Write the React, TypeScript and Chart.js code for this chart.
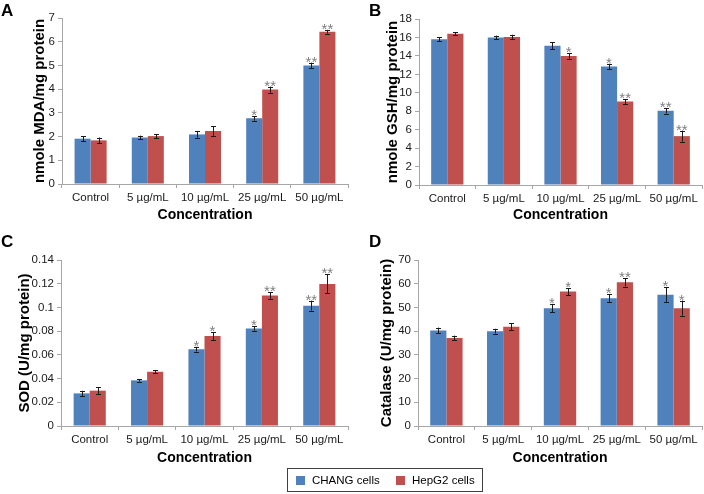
import React, { useEffect, useRef } from 'react';
import { Chart, registerables } from 'chart.js';

Chart.register(...registerables);

// ---------- data ----------
const categories = ['Control', '5 µg/mL', '10 µg/mL', '25 µg/mL', '50 µg/mL'];
const seriesNames = ['CHANG cells', 'HepG2 cells'];

// A: MDA
const mdaChang = [1.91, 1.96, 2.09, 2.77, 5.0];
const mdaHepg2 = [1.84, 2.02, 2.23, 3.98, 6.42];
const mdaChangErr = [0.1, 0.08, 0.14, 0.1, 0.12];
const mdaHepg2Err = [0.12, 0.09, 0.2, 0.13, 0.08];
const mdaChangSig = ['', '', '', '*', '**'];
const mdaHepg2Sig = ['', '', '', '**', '**'];

// B: GSH
const gshChang = [15.8, 16.0, 15.1, 12.85, 8.05];
const gshHepg2 = [16.4, 16.05, 14.0, 9.05, 5.3];
const gshChangErr = [0.2, 0.2, 0.4, 0.3, 0.3];
const gshHepg2Err = [0.15, 0.25, 0.3, 0.25, 0.6];
const gshChangSig = ['', '', '', '*', '**'];
const gshHepg2Sig = ['', '', '*', '**', '**'];

// C: SOD
const sodChang = [0.0275, 0.0385, 0.0648, 0.0822, 0.1015];
const sodHepg2 = [0.0298, 0.0458, 0.0758, 0.1101, 0.1198];
const sodChangErr = [0.0022, 0.001, 0.002, 0.0018, 0.0042];
const sodHepg2Err = [0.003, 0.0012, 0.0032, 0.0028, 0.008];
const sodChangSig = ['', '', '*', '*', '**'];
const sodHepg2Sig = ['', '', '*', '**', '**'];

// D: Catalase
const catChang = [40.3, 40.0, 49.7, 53.9, 55.3];
const catHepg2 = [37.1, 41.8, 56.7, 60.6, 49.7];
const catChangErr = [1.2, 1.0, 1.8, 1.6, 3.2];
const catHepg2Err = [1.0, 1.5, 1.5, 1.8, 3.2];
const catChangSig = ['', '', '*', '*', '*'];
const catHepg2Sig = ['', '', '*', '**', '*'];

// axis ranges [min, max, step]
const mdaAxis = [0, 7, 1];
const gshAxis = [0, 18, 2];
const sodAxis = [0, 0.14, 0.02];
const catAxis = [0, 70, 10];

const FONT = '"Liberation Sans", Arial, Helvetica, sans-serif';
const BLUE = '#4F81BD';
const RED = '#C0504D';
const AXIS = '#a6a6a6';

const errorPlugin = {
  id: 'errbars',
  afterDatasetsDraw(chart: any) {
    const ctx = chart.ctx;
    const ys = chart.scales.y;
    chart.data.datasets.forEach((ds: any, i: number) => {
      const meta = chart.getDatasetMeta(i);
      meta.data.forEach((el: any, j: number) => {
        const v = ds.data[j];
        const e = ds.errors[j];
        const top = ys.getPixelForValue(v + e);
        const bot = ys.getPixelForValue(v - e);
        const x = Math.round(el.x) + 0.5;
        ctx.save();
        ctx.strokeStyle = '#1a1a1a';
        ctx.lineWidth = 1;
        ctx.beginPath();
        ctx.moveTo(x, top);
        ctx.lineTo(x, bot);
        ctx.moveTo(x - 2.5, Math.round(top) + 0.5);
        ctx.lineTo(x + 2.5, Math.round(top) + 0.5);
        ctx.moveTo(x - 2.5, Math.round(bot) + 0.5);
        ctx.lineTo(x + 2.5, Math.round(bot) + 0.5);
        ctx.stroke();
        const s = ds.sig[j];
        if (s) {
          ctx.fillStyle = '#7f7f7f';
          ctx.font = '15px ' + FONT;
          ctx.textAlign = 'center';
          ctx.textBaseline = 'alphabetic';
          ctx.fillText(s, el.x, top + 4);
        }
        ctx.restore();
      });
    });
  },
};

type PanelProps = {
  left: number; top: number; width: number; height: number;
  plotLeft: number; plotRight: number; plotTop: number; plotBottom: number;
  titleX: number; titleY: number;
  yTitle: string;
  axis: number[];
  a: number[]; b: number[]; aErr: number[]; bErr: number[]; aSig: string[]; bSig: string[];
  letter: string; letterX: number; letterY: number;
  catPct: number;
};

function Panel(p: PanelProps) {
  const ref = useRef<HTMLCanvasElement | null>(null);
  useEffect(() => {
    if (!ref.current) return;
    const yTitleFont = 15;
    const xTitleFont = 14;
    const yHalf = (yTitleFont * 1.2) / 2;
    const xHalf = (xTitleFont * 1.2) / 2;
    const chart = new Chart(ref.current, {
      type: 'bar',
      data: {
        labels: categories,
        datasets: [
          { label: seriesNames[0], data: p.a, backgroundColor: BLUE, errors: p.aErr, sig: p.aSig } as any,
          { label: seriesNames[1], data: p.b, backgroundColor: RED, errors: p.bErr, sig: p.bSig } as any,
        ],
      },
      options: {
        animation: false,
        responsive: false,
        devicePixelRatio: 1,
        events: [],
        layout: { padding: { left: 0, top: p.plotTop, right: p.width - p.plotRight, bottom: 0 } },
        datasets: { bar: { barPercentage: 1, categoryPercentage: p.catPct } },
        plugins: { legend: { display: false }, tooltip: { enabled: false } },
        scales: {
          x: {
            afterFit: (s: any) => { s.height = p.height - p.plotBottom; },
            grid: { drawOnChartArea: false, drawTicks: true, tickLength: 4, color: AXIS, offset: true },
            border: { display: true, color: AXIS },
            ticks: { color: '#1a1a1a', font: { family: FONT, size: 11.5 }, padding: 3, maxRotation: 0, autoSkip: false },
            title: {
              display: true, text: 'Concentration', color: '#000',
              font: { family: FONT, size: xTitleFont, weight: 'bold' },
              padding: { top: 0, bottom: p.height - p.titleY - xHalf },
            },
          },
          y: {
            min: p.axis[0], max: p.axis[1],
            afterFit: (s: any) => { s.width = p.plotLeft; },
            grid: { drawOnChartArea: false, drawTicks: true, tickLength: 4, color: AXIS },
            border: { display: true, color: AXIS },
            ticks: {
              stepSize: p.axis[2], color: '#1a1a1a', font: { family: FONT, size: 11.5 }, padding: 3,
              callback: (v: any) => String(+Number(v).toFixed(4)),
            },
            title: {
              display: true, text: p.yTitle, color: '#000',
              font: { family: FONT, size: yTitleFont, weight: 'bold' },
              padding: { top: p.titleX - yHalf, bottom: 0 },
            },
          },
        },
      } as any,
      plugins: [errorPlugin],
    });
    return () => chart.destroy();
  }, []);
  return (
    <>
      <canvas
        ref={ref}
        width={p.width}
        height={p.height}
        style={{ position: 'absolute', left: p.left, top: p.top, width: p.width, height: p.height }}
      />
      <div
        style={{
          position: 'absolute', left: p.letterX, top: p.letterY, fontFamily: FONT, fontWeight: 'bold',
          fontSize: 17, lineHeight: '17px', color: '#000',
        }}
      >
        {p.letter}
      </div>
    </>
  );
}

export default function App() {
  return (
    <div style={{ position: 'fixed', left: 0, top: 0, width: 704, height: 494, background: '#fff', overflow: 'hidden' }}>
      <Panel
        left={0} top={0} width={352} height={226}
        plotLeft={62} plotRight={348} plotTop={18} plotBottom={184}
        titleX={40} titleY={215}
        yTitle="nmole MDA/mg protein" axis={mdaAxis}
        a={mdaChang} b={mdaHepg2} aErr={mdaChangErr} bErr={mdaHepg2Err} aSig={mdaChangSig} bSig={mdaHepg2Sig}
        letter="A" letterX={1} letterY={2} catPct={0.56}
      />
      <Panel
        left={352} top={0} width={352} height={226}
        plotLeft={67} plotRight={350} plotTop={19} plotBottom={185}
        titleX={41} titleY={215}
        yTitle="nmole GSH/mg protein" axis={gshAxis}
        a={gshChang} b={gshHepg2} aErr={gshChangErr} bErr={gshHepg2Err} aSig={gshChangSig} bSig={gshHepg2Sig}
        letter="B" letterX={369} letterY={2} catPct={0.57}
      />
      <Panel
        left={0} top={230} width={352} height={240}
        plotLeft={61} plotRight={348} plotTop={30} plotBottom={196}
        titleX={25} titleY={228}
        yTitle="SOD (U/mg protein)" axis={sodAxis}
        a={sodChang} b={sodHepg2} aErr={sodChangErr} bErr={sodHepg2Err} aSig={sodChangSig} bSig={sodHepg2Sig}
        letter="C" letterX={1} letterY={233} catPct={0.56}
      />
      <Panel
        left={352} top={230} width={352} height={240}
        plotLeft={66} plotRight={350} plotTop={30} plotBottom={196}
        titleX={35} titleY={228}
        yTitle="Catalase (U/mg protein)" axis={catAxis}
        a={catChang} b={catHepg2} aErr={catChangErr} bErr={catHepg2Err} aSig={catChangSig} bSig={catHepg2Sig}
        letter="D" letterX={369} letterY={233} catPct={0.57}
      />
      <div
        style={{
          position: 'absolute', left: 287, top: 468, width: 196, height: 24, boxSizing: 'border-box',
          border: '1px solid #404040', fontFamily: FONT, fontSize: 11.5, color: '#000',
        }}
      >
        <span style={{ position: 'absolute', left: 8, top: 7, width: 9, height: 9, background: BLUE }} />
        <span style={{ position: 'absolute', left: 24, top: 4, lineHeight: '14px', whiteSpace: 'nowrap' }}>{seriesNames[0]}</span>
        <span style={{ position: 'absolute', left: 108, top: 7, width: 9, height: 9, background: RED }} />
        <span style={{ position: 'absolute', left: 124, top: 4, lineHeight: '14px', whiteSpace: 'nowrap' }}>{seriesNames[1]}</span>
      </div>
    </div>
  );
}
